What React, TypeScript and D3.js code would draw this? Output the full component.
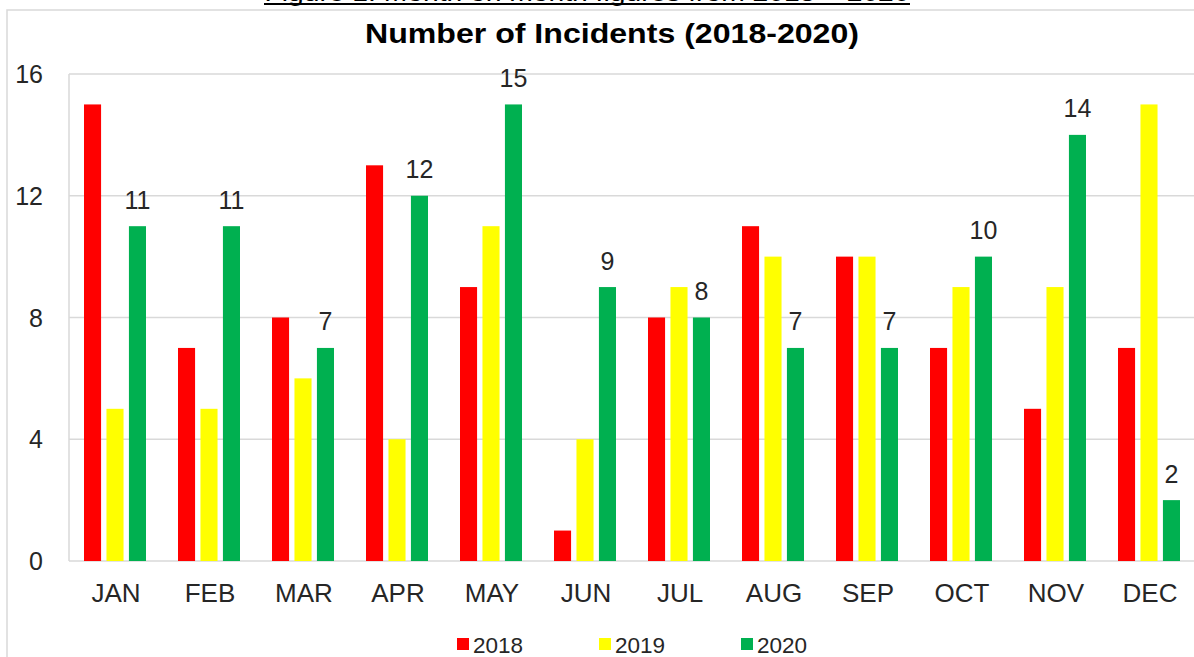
import React from "react";
import * as d3 from "d3";

const months = ["JAN", "FEB", "MAR", "APR", "MAY", "JUN", "JUL", "AUG", "SEP", "OCT", "NOV", "DEC"];
const series2018 = [15, 7, 8, 13, 9, 1, 8, 11, 10, 7, 5, 7];
const series2019 = [5, 5, 6, 4, 11, 4, 9, 10, 10, 9, 9, 15];
const series2020 = [11, 11, 7, 12, 15, 9, 8, 7, 7, 10, 14, 2];
const seriesNames = ["2018", "2019", "2020"];
const seriesColors = ["#ff0000", "#ffff00", "#00b050"];
const yTicks = [0, 4, 8, 12, 16];

const W = 1194;
const H = 657;
const plotLeft = 69;
const plotRight = 1197;
const plotTop = 74;
const plotBottom = 561;

export default function App() {
  const allSeries = [series2018, series2019, series2020];
  const x = d3.scaleBand<string>().domain(months).range([plotLeft, plotRight]).paddingInner(0).paddingOuter(0);
  const y = d3.scaleLinear().domain([0, 16]).range([plotBottom, plotTop]);
  const inner = d3.scaleBand<string>().domain(seriesNames).range([0, 62]).paddingInner(0.24);
  const groupOffset = (x.bandwidth() - 62) / 2 - 1;
  const font = "Arial, 'Liberation Sans', sans-serif";
  const textColor = "#262626";

  return (
    <svg width={W} height={H} style={{ position: "absolute", left: 0, top: 0, background: "#fff" }}>
      <rect x={7} y={10} width={1200} height={660} fill="#fff" stroke="#d9d9d9" strokeWidth={1.5} />
      <text x={587} y={1} textAnchor="middle" fontFamily={font} fontSize={24} fill="#000" textLength={645} lengthAdjust="spacingAndGlyphs">
        Figure 1: Month on month figures from 2018 – 2020
      </text>
      <line x1={264} x2={910} y1={4} y2={4} stroke="#000" strokeWidth={2} />
      <text x={612} y={43} textAnchor="middle" fontFamily={font} fontWeight="bold" fontSize={28} fill="#000" textLength={494} lengthAdjust="spacingAndGlyphs">
        Number of Incidents (2018-2020)
      </text>
      {yTicks.map((t) => (
        <g key={t}>
          <line x1={plotLeft} x2={plotRight} y1={y(t)} y2={y(t)} stroke="#d9d9d9" strokeWidth={1.5} />
          <text x={43} y={y(t) + 9} textAnchor="end" fontFamily={font} fontSize={25} fill={textColor}>
            {t}
          </text>
        </g>
      ))}
      <line x1={plotLeft} x2={plotLeft} y1={plotTop} y2={plotBottom} stroke="#d9d9d9" strokeWidth={1.5} />
      {months.map((m, i) => (
        <g key={m}>
          {allSeries.map((s, j) => {
            const bx = (x(m) as number) + groupOffset + (inner(seriesNames[j]) as number);
            return (
              <rect key={j} x={bx} y={y(s[i])} width={inner.bandwidth()} height={plotBottom - y(s[i])} fill={seriesColors[j]} />
            );
          })}
          <text
            x={(x(m) as number) + groupOffset + (inner("2020") as number) + inner.bandwidth() / 2}
            y={y(series2020[i]) - 17.5}
            textAnchor="middle"
            fontFamily={font}
            fontSize={25}
            fill={textColor}
          >
            {series2020[i]}
          </text>
          <text x={(x(m) as number) + x.bandwidth() / 2} y={602} textAnchor="middle" fontFamily={font} fontSize={26} fill={textColor}>
            {m}
          </text>
        </g>
      ))}
      {seriesNames.map((n, j) => {
        const lx = [457, 599, 741][j];
        return (
          <g key={n}>
            <rect x={lx} y={638} width={12} height={12} fill={seriesColors[j]} />
            <text x={lx + 16} y={653} fontFamily={font} fontSize={22.5} fill={textColor}>
              {n}
            </text>
          </g>
        );
      })}
    </svg>
  );
}
